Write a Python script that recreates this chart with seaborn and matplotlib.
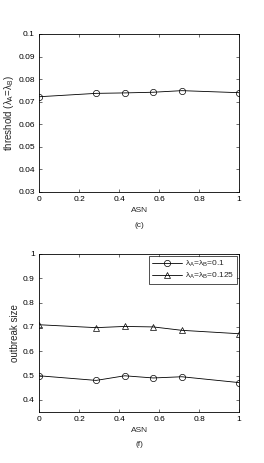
import matplotlib
matplotlib.use("Agg")
import matplotlib.pyplot as plt
import seaborn as sns
import pandas as pd

sns.set_theme(style="white")
plt.rcParams['font.family'] = ['Liberation Sans', 'DejaVu Sans']
plt.rcParams['mathtext.fontset'] = 'custom'
plt.rcParams['mathtext.rm'] = 'Liberation Sans'
plt.rcParams['mathtext.it'] = 'Liberation Sans'

asn = [0, 2/7, 3/7, 4/7, 5/7, 1]
threshold = [0.0722, 0.0737, 0.0739, 0.0742, 0.0749, 0.0740]
outbreak_01 = [0.499, 0.480, 0.499, 0.490, 0.495, 0.471]
outbreak_0125 = [0.709, 0.697, 0.702, 0.700, 0.686, 0.672]
series_labels = [r'$\lambda_A$=$\lambda_B$=0.1', r'$\lambda_A$=$\lambda_B$=0.125']

fig = plt.figure(figsize=(2.64, 4.63), dpi=100)
W, H = 264, 463
ax1 = fig.add_axes([39/W, 1-192/H, 200/W, 158/H])
ax2 = fig.add_axes([39/W, 1-412/H, 200/W, 158/H])

fs = 6.0
yfs = 7.0
lw = 0.6

df1 = pd.DataFrame({'ASN': asn, 'threshold': threshold})
sns.lineplot(data=df1, x='ASN', y='threshold', ax=ax1, color='black', lw=lw,
             marker='o', markersize=4.5, markerfacecolor='none',
             markeredgecolor='black', markeredgewidth=0.5)
ax1.set_xlim(0, 1)
ax1.set_ylim(0.03, 0.1)
ax1.set_xticks([0, 0.2, 0.4, 0.6, 0.8, 1])
ax1.set_xticklabels(['0', '0.2', '0.4', '0.6', '0.8', '1'])
ax1.set_yticks([0.03, 0.04, 0.05, 0.06, 0.07, 0.08, 0.09, 0.1])
ax1.set_yticklabels(['0.03', '0.04', '0.05', '0.06', '0.07', '0.08', '0.09', '0.1'])
ax1.set_xlabel('ASN', fontsize=fs, labelpad=2.5)
ax1.set_ylabel(r'threshold ($\lambda_A$=$\lambda_B$)', fontsize=yfs, labelpad=1.5)
ax1.text(0.5, -0.213, '(c)', transform=ax1.transAxes, ha='center', va='center', fontsize=fs)

df2 = pd.DataFrame({'ASN': asn * 2,
                    'size': outbreak_01 + outbreak_0125,
                    'series': [series_labels[0]] * 6 + [series_labels[1]] * 6})
sns.lineplot(data=df2, x='ASN', y='size', hue='series', style='series',
             markers=['o', '^'], dashes=False,
             palette=['black', 'black'], ax=ax2, lw=lw, markersize=4.5,
             markerfacecolor='none', markeredgewidth=0.5)
for line in ax2.lines:
    line.set_markerfacecolor('none')
    line.set_markeredgecolor('black')
ax2.set_xlim(0, 1)
ax2.set_ylim(0.35, 1)
ax2.set_xticks([0, 0.2, 0.4, 0.6, 0.8, 1])
ax2.set_xticklabels(['0', '0.2', '0.4', '0.6', '0.8', '1'])
ax2.set_yticks([0.4, 0.5, 0.6, 0.7, 0.8, 0.9, 1])
ax2.set_yticklabels(['0.4', '0.5', '0.6', '0.7', '0.8', '0.9', '1'])
ax2.set_xlabel('ASN', fontsize=fs, labelpad=2.5)
ax2.set_ylabel('outbreak size', fontsize=yfs, labelpad=2.0)
ax2.text(0.5, -0.203, '(f)', transform=ax2.transAxes, ha='center', va='center', fontsize=fs)
leg = ax2.legend(loc='upper right', fontsize=fs, frameon=True, fancybox=False,
                 edgecolor='black', borderpad=0.35, handlelength=3.6,
                 handletextpad=0.3, labelspacing=0.15, borderaxespad=0,
                 bbox_to_anchor=(0.988, 0.985))
leg.get_frame().set_linewidth(0.6)
for h in leg.legend_handles:
    h.set_markerfacecolor('none')
    h.set_markeredgecolor('black')

for ax in (ax1, ax2):
    ax.tick_params(direction='in', length=2, width=0.4, labelsize=fs, pad=3,
                   top=True, right=True, bottom=True, left=True, colors='black')
    for s in ax.spines.values():
        s.set_linewidth(0.6)
        s.set_color('black')
        s.set_visible(True)

fig.savefig('out.png', dpi=100)
